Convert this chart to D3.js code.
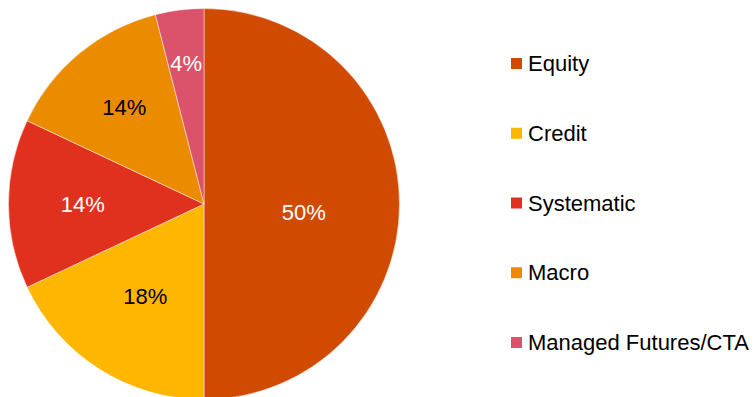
<!DOCTYPE html>
<html>
<head>
<meta charset="utf-8">
<script src="https://cdn.jsdelivr.net/npm/d3@7/dist/d3.min.js"></script>
<style>
  html, body { margin: 0; padding: 0; background: #fff; }
  svg { display: block; font-family: Arial, "Liberation Sans", sans-serif; }
</style>
</head>
<body>
<svg id="chart" width="755" height="397"></svg>
<script>
// Strategy allocation (percent of portfolio)
const categories = ["Equity", "Credit", "Systematic", "Macro", "Managed Futures/CTA"];
const shares = [50, 18, 14, 14, 4];
const colors = ["#D04A02", "#FFB600", "#E0301E", "#EB8C00", "#DB536A"];
const labelColors = ["#fff", "#000", "#fff", "#000", "#fff"];

// Label placement inside each slice: fraction of radius, plus vertical nudge
const labelRadius = [0.51, 0.56, 0.62, 0.64, 0.725];
const labelNudge = [8, 0, 0, 0, 0];

const svg = d3.select("#chart");
const cx = 204, cy = 204, R = 195.5;

const pie = d3.pie().sort(null).value(d => d.v);
const arcs = pie(categories.map((c, i) => ({ c, v: shares[i], i })));
const arc = d3.arc().innerRadius(0).outerRadius(R);

const g = svg.append("g").attr("transform", `translate(${cx},${cy})`);

g.selectAll("path.slice")
  .data(arcs)
  .join("path")
  .attr("class", "slice")
  .attr("d", arc)
  .attr("fill", d => colors[d.data.i])
  .attr("stroke", "#fff")
  .attr("stroke-opacity", 0.6)
  .attr("stroke-width", 0.75);

g.selectAll("text.pct")
  .data(arcs)
  .join("text")
  .attr("class", "pct")
  .attr("transform", d => {
    const r = R * labelRadius[d.data.i];
    const [x, y] = d3.arc().innerRadius(r).outerRadius(r).centroid(d);
    return `translate(${x},${y + labelNudge[d.data.i]})`;
  })
  .attr("text-anchor", "middle")
  .attr("dy", "0.35em")
  .attr("font-size", 22)
  .attr("fill", d => labelColors[d.data.i])
  .text(d => d.data.v + "%");

// Legend
const legendY = d3.scalePoint().domain(categories).range([63.5, 342.5]);
const lg = svg.append("g").attr("transform", "translate(511,0)");
const item = lg.selectAll("g.item")
  .data(categories)
  .join("g")
  .attr("class", "item")
  .attr("transform", d => `translate(0,${legendY(d)})`);

item.append("rect")
  .attr("x", 0).attr("y", -5.5)
  .attr("width", 11).attr("height", 11)
  .attr("fill", (d, i) => colors[i]);

item.append("text")
  .attr("x", 17)
  .attr("dy", "0.35em")
  .attr("font-size", 22)
  .attr("fill", "#000")
  .text(d => d);
</script>
</body>
</html>
